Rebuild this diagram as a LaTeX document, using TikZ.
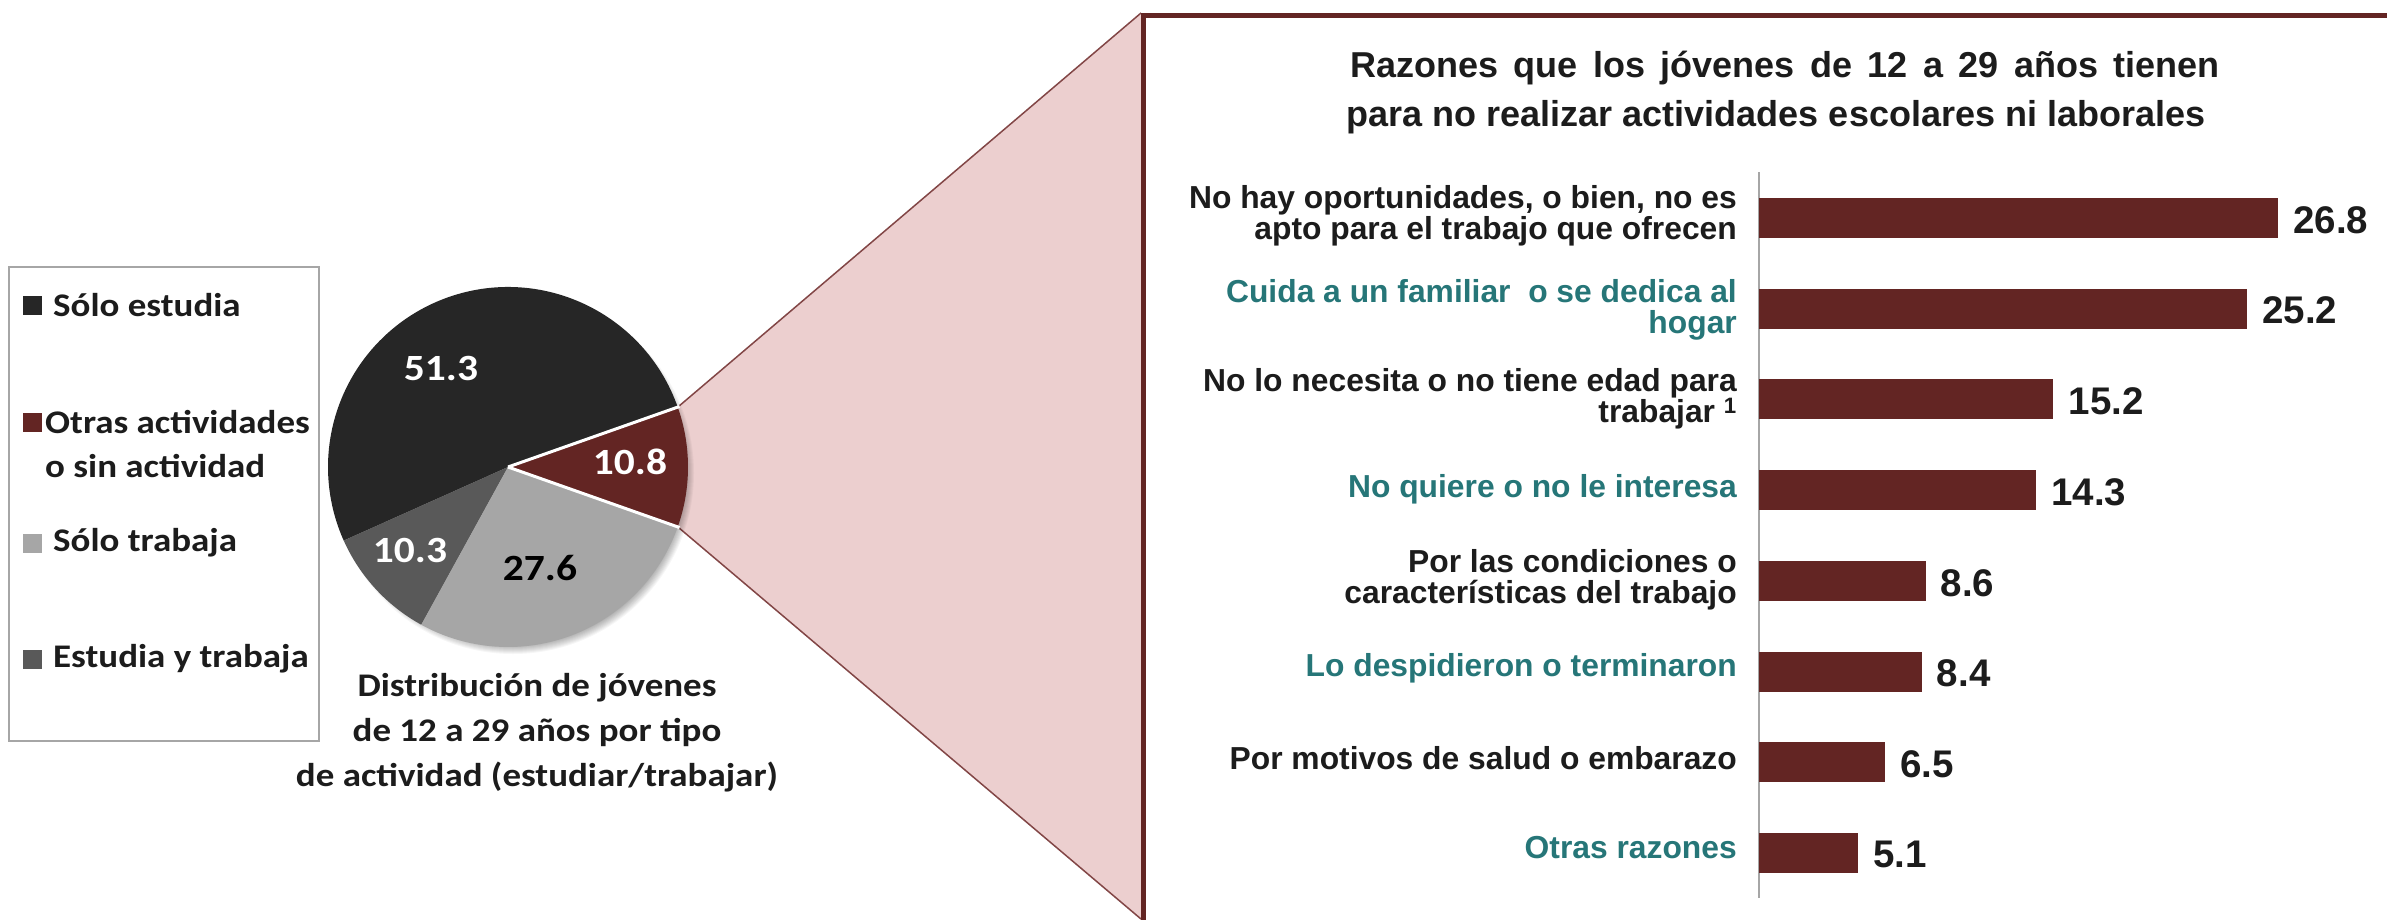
\documentclass[tikz,border=0pt]{standalone}
\usepackage{fontspec}
\setmainfont{Liberation Sans}
\newfontfamily\calw[FakeStretch=1.12]{Carlito}
\usetikzlibrary{calc}
\definecolor{blk}{HTML}{262626}
\definecolor{mar}{HTML}{632523}
\definecolor{lgr}{HTML}{A6A6A6}
\definecolor{mgr}{HTML}{595959}
\definecolor{pnk}{RGB}{236,207,207}
\definecolor{pnkedge}{RGB}{130,70,70}
\definecolor{tealx}{RGB}{38,118,120}
\definecolor{txt}{HTML}{1C1C1C}
\tikzset{
 legsq/.style={draw=none, minimum width=19pt, minimum height=19pt, inner sep=0pt},
 legtxt/.style={font=\calw\bfseries\fontsize{33}{44}\selectfont, text=txt, anchor=west, align=left, inner sep=0pt},
 pielbl/.style={font=\calw\bfseries\fontsize{37}{40}\selectfont, inner sep=0pt},
 cat/.style={font=\bfseries\fontsize{31.8}{31}\selectfont, anchor=east, align=right, inner sep=0pt},
 val/.style={font=\bfseries\fontsize{38.5}{40}\selectfont, text=txt, anchor=west, inner sep=0pt},
 ttl/.style={font=\bfseries\fontsize{36}{40}\selectfont, text=txt, inner sep=0pt},
}
\begin{document}
\begin{tikzpicture}[x=1pt,y=-1pt]
\useasboundingbox (0,0) rectangle (2387,919);
\fill[white] (0,0) rectangle (2387,919);
% legend
\draw[lgr, line width=2] (9,267) rectangle (319,741);
\node[legsq, fill=blk] (sq1) at (32,305) {};
\node[legtxt] (lt1) at (53,305) {Sólo estudia};
\node[legsq, fill=mar] (sq2) at (32,422) {};
\node[legtxt] (lt2) at (45,444) {Otras actividades\\o sin actividad};
\node[legsq, fill=lgr] (sq3) at (32,543) {};
\node[legtxt] (lt3) at (53,543) {Sólo trabaja};
\node[legsq, fill=mgr] (sq4) at (32,659) {};
\node[legtxt] (lt4) at (53,659) {Estudia y trabaja};
% zoom trapezoid
\coordinate (pa) at (677.8,407.1);
\coordinate (pb) at (677.8,526.9);
\coordinate (qa) at (1141,13);
\coordinate (qb) at (1141,919);
\fill[pnk] (pa) -- (qa) -- (qb) -- (pb) -- cycle;
\draw[pnkedge, line width=1.5] (pa) -- (qa);
\draw[pnkedge, line width=1.5] (pb) -- (qb);
% pie shadow
\foreach \k in {1,...,9} \fill[black, opacity=0.035] (513,473) circle (172+\k);
% pie
\begin{scope}[shift={(508,467)}, yscale=-1]
 \fill[mar] (0,0) -- (-19.44:180) arc[start angle=-19.44, end angle=19.44, radius=180] -- cycle;
 \fill[blk] (0,0) -- (19.44:180) arc[start angle=19.44, end angle=204.12, radius=180] -- cycle;
 \fill[mgr] (0,0) -- (204.12:180) arc[start angle=204.12, end angle=241.2, radius=180] -- cycle;
 \fill[lgr] (0,0) -- (241.2:180) arc[start angle=241.2, end angle=340.56, radius=180] -- cycle;
 \draw[white, line width=3] (0,0) -- (19.44:182);
 \draw[white, line width=3] (0,0) -- (-19.44:182);
\end{scope}
\node[pielbl, text=white] (l513) at (441,368) {51.3};
\node[pielbl, text=white] (l108) at (630,462) {10.8};
\node[pielbl, text=black] (l276) at (540,568) {27.6};
\node[pielbl, text=white] (l103) at (410,550) {10.3};
\node[font=\calw\bfseries\fontsize{33}{45}\selectfont, text=txt, align=center, inner sep=0pt] (cap) at (537,733)
 {Distribución de jóvenes\\de 12 a 29 años por tipo\\de actividad (estudiar/trabajar)};
% panel
\fill[white] (1143,15) rectangle (2387,919);
\draw[mar, line width=5] (1143,925) -- (1143,15) -- (2395,15);
\node[ttl] (title1) at (1785,68) {\spaceskip=15.5pt\relax Razones que los jóvenes de 12 a 29 años tienen};
\node[ttl] (title2) at (1776,117) {para no realizar actividades escolares ni laborales};
% axis
\draw[lgr, line width=1.5] (1759,172) -- (1759,898);
% bars
\foreach \v/\i in {26.8/0, 25.2/1, 15.2/2, 14.3/3, 8.6/4, 8.4/5, 6.5/6, 5.1/7} {
 \pgfmathsetmacro\cy{218+90.7*\i}
 \pgfmathsetmacro\xr{1759+19.37*\v}
 \fill[mar] (1759,\cy-20) rectangle (\xr,\cy+20);
 \node[val] (v\i) at (\xr+15,\cy+2) {\v};
}
% category labels
\node[cat, text=txt] (c0) at (1737,216) {No hay oportunidades, o bien, no es\\apto para el trabajo que ofrecen};
\node[cat, text=tealx] (c1) at (1737,310) {Cuida a un familiar\ \ o se dedica al\\hogar};
\node[cat, text=txt] (c2) at (1737,399) {No lo necesita o no tiene edad para\\trabajar \textsuperscript{1}};
\node[cat, text=tealx] (c3) at (1737,489) {No quiere o no le interesa};
\node[cat, text=txt] (c4) at (1737,580) {Por las condiciones o\\características del trabajo};
\node[cat, text=tealx] (c5) at (1737,668) {Lo despidieron o terminaron};
\node[cat, text=txt] (c6) at (1737,758) {Por motivos de salud o embarazo};
\node[cat, text=tealx] (c7) at (1737,848) {Otras razones};
\end{tikzpicture}
\end{document}
